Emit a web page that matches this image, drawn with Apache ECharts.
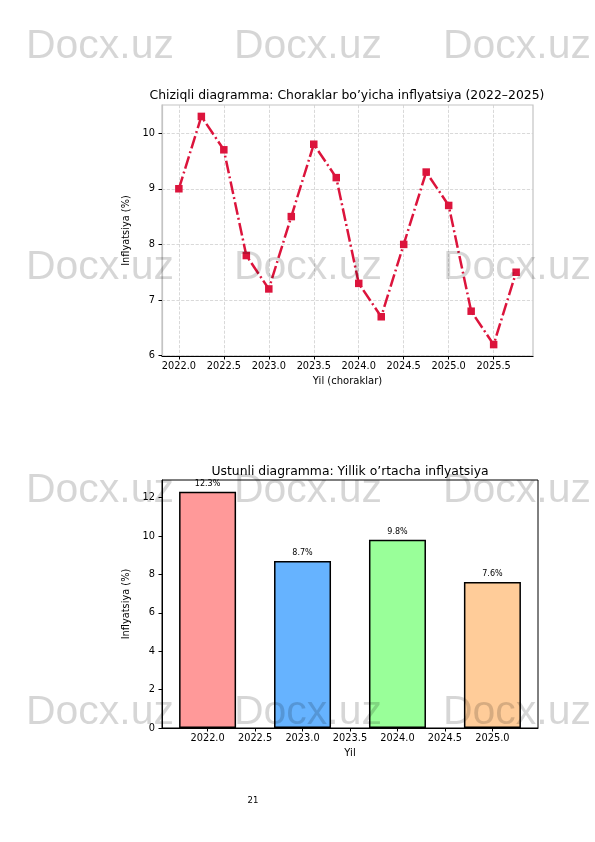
<!DOCTYPE html>
<html>
<head>
<meta charset="utf-8">
<script src="https://cdn.jsdelivr.net/npm/echarts@6/dist/echarts.min.js"></script>
<style>
  html, body { margin: 0; padding: 0; background: #fff; }
  #page { width: 595px; height: 842px; }
</style>
</head>
<body>
<div id="page"></div>
<script>
// choraklar bo'yicha inflyatsiya
const quarters = [2022.0, 2022.25, 2022.5, 2022.75, 2023.0, 2023.25, 2023.5, 2023.75,
  2024.0, 2024.25, 2024.5, 2024.75, 2025.0, 2025.25, 2025.5, 2025.75]
const quarterInflation = [9.0, 10.3, 9.7, 7.8, 7.2, 8.5, 9.8, 9.2, 7.3, 6.7, 8.0, 9.3, 8.7, 6.8, 6.2, 7.5]
const lineXTicks = [2022.0, 2022.5, 2023.0, 2023.5, 2024.0, 2024.5, 2025.0, 2025.5]
const lineYTicks = [6, 7, 8, 9, 10]

// yillik o'rtacha
const years = [2022, 2023, 2024, 2025]
const annualInflation = [12.3, 8.7, 9.8, 7.6]
const barColors = ['#ff9999', '#66b3ff', '#99ff99', '#ffcc99']
const barXTicks = [2022.0, 2022.5, 2023.0, 2023.5, 2024.0, 2024.5, 2025.0]
const barYTicks = [0, 2, 4, 6, 8, 10, 12]

const FONT = 'DejaVu Sans'
const chart = echarts.init(document.getElementById('page'))

// watermark
const marks = []
const markRows = [47, 268, 491, 713]
const markCols = [100, 308, 517]
markRows.forEach(y => {
  markCols.forEach(x => {
    marks.push({
      type: 'text',
      x: x,
      y: y,
      z: 100,
      silent: true,
      style: {
        text: 'Docx.uz',
        font: '41px "Liberation Sans"',
        fill: 'rgba(0,0,0,0.16)',
        align: 'center',
        verticalAlign: 'middle'
      }
    })
  })
})

const option = {
  animation: false,
  textStyle: { fontFamily: FONT },
  title: [
    {
      text: 'Chiziqli diagramma: Choraklar bo’yicha inflyatsiya (2022–2025)',
      left: 342,
      top: 85,
      textAlign: 'center',
      textStyle: { fontFamily: FONT, fontSize: 12.4, fontWeight: 'normal', color: '#000' }
    },
    {
      text: 'Ustunli diagramma: Yillik o’rtacha inflyatsiya',
      left: 345,
      top: 461,
      textAlign: 'center',
      textStyle: { fontFamily: FONT, fontSize: 12.4, fontWeight: 'normal', color: '#000' }
    }
  ],
  grid: [
    { left: 162, top: 105, width: 371, height: 251, show: true, borderColor: '#c4c4c4', borderWidth: 1.2 },
    { left: 162, top: 480, width: 376, height: 248, show: true, borderColor: '#000', borderWidth: 1 }
  ],
  xAxis: [
    {
      gridIndex: 0,
      type: 'value',
      min: 2021.8125,
      max: 2025.9375,
      name: 'Yil (choraklar)',
      nameLocation: 'middle',
      nameGap: 20,
      nameMoveOverlap: false,
      nameTextStyle: { fontSize: 10, color: '#000' },
      axisLine: { lineStyle: { color: '#000', width: 1.2 } },
      axisTick: { customValues: lineXTicks, length: 3.5, lineStyle: { color: '#000' } },
      axisLabel: {
        customValues: lineXTicks,
        formatter: v => v.toFixed(1),
        fontSize: 9.8,
        color: '#000',
        margin: 5
      },
      splitLine: { show: true, lineStyle: { type: 'dashed', color: '#cfcfcf', width: 0.8 } }
    },
    {
      gridIndex: 1,
      type: 'value',
      min: 2021.52,
      max: 2025.48,
      name: 'Yil',
      nameLocation: 'middle',
      nameGap: 20,
      nameMoveOverlap: false,
      nameTextStyle: { fontSize: 10, color: '#000' },
      axisLine: { lineStyle: { color: '#000' } },
      axisTick: { customValues: barXTicks, length: 3.5, lineStyle: { color: '#000' } },
      axisLabel: {
        customValues: barXTicks,
        formatter: v => v.toFixed(1),
        fontSize: 9.8,
        color: '#000',
        margin: 5
      },
      splitLine: { show: false }
    }
  ],
  yAxis: [
    {
      gridIndex: 0,
      type: 'value',
      min: 5.995,
      max: 10.505,
      name: 'Inflyatsiya (%)',
      nameLocation: 'middle',
      nameGap: 31,
      nameMoveOverlap: false,
      nameTextStyle: { fontSize: 9.8, color: '#000' },
      axisLine: { show: true, lineStyle: { color: '#c4c4c4', width: 1.2 } },
      axisTick: { show: true, customValues: lineYTicks, length: 3.5, lineStyle: { color: '#000' } },
      axisLabel: { customValues: lineYTicks, fontSize: 9.8, color: '#000', margin: 7 },
      splitLine: { show: true, lineStyle: { type: 'dashed', color: '#cfcfcf', width: 0.8 } }
    },
    {
      gridIndex: 1,
      type: 'value',
      min: 0,
      max: 12.915,
      name: 'Inflyatsiya (%)',
      nameLocation: 'middle',
      nameGap: 31,
      nameMoveOverlap: false,
      nameTextStyle: { fontSize: 9.8, color: '#000' },
      axisLine: { show: true, lineStyle: { color: '#000' } },
      axisTick: { show: true, customValues: barYTicks, length: 3.5, lineStyle: { color: '#000' } },
      axisLabel: { customValues: barYTicks, fontSize: 9.8, color: '#000', margin: 7 },
      splitLine: { show: false }
    }
  ],
  series: [
    {
      name: 'Inflyatsiya',
      type: 'line',
      xAxisIndex: 0,
      yAxisIndex: 0,
      data: quarters.map((q, i) => [q, quarterInflation[i]]),
      symbol: 'rect',
      symbolSize: 7.5,
      itemStyle: { color: '#dc143c' },
      lineStyle: { color: '#dc143c', width: 2.5, type: [12.8, 3.2, 2, 3.2] }
    },
    {
      name: 'Yillik',
      type: 'bar',
      xAxisIndex: 1,
      yAxisIndex: 1,
      barWidth: 57,
      data: years.map((y, i) => ({
        value: [y, annualInflation[i]],
        itemStyle: { color: barColors[i], borderColor: '#000', borderWidth: 1.5 }
      })),
      label: {
        show: true,
        position: 'top',
        distance: 4,
        fontSize: 8,
        color: '#000',
        formatter: p => p.value[1].toFixed(1) + '%'
      }
    }
  ],
  graphic: marks.concat([
    {
      type: 'text',
      x: 253,
      y: 801,
      style: {
        text: '21',
        font: '8.5px "DejaVu Sans"',
        fill: '#000',
        align: 'center',
        verticalAlign: 'middle'
      }
    }
  ])
}

chart.setOption(option)
</script>
</body>
</html>
